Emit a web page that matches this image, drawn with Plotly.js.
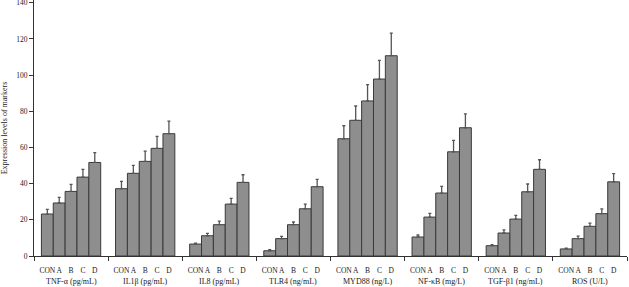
<!DOCTYPE html>
<html>
<head>
<meta charset="utf-8">
<script src="https://cdn.plot.ly/plotly-3.0.1.min.js"></script>
<style>
  html, body { margin: 0; padding: 0; background: #fff; }
  #chart { width: 629px; height: 287px; }
</style>
</head>
<body>
<div id="chart"></div>
<script>
// Markers measured, one entry per group on the x axis
const markers = ['TNF-α (pg/mL)', 'IL1β (pg/mL)', 'IL8 (pg/mL)', 'TLR4 (ng/mL)',
                 'MYD88 (ng/L)', 'NF-κB (mg/L)', 'TGF-β1 (ng/mL)', 'ROS (U/L)'];
// Treatment groups, one bar each inside every marker group
const groups = ['CON', 'A', 'B', 'C', 'D'];

// Mean expression level per marker, for each treatment group
const meanCON = [23.2, 37.2, 6.6, 2.9, 64.8, 10.5, 5.7, 3.9];
const meanA   = [29.3, 45.7, 11.2, 9.6, 75.0, 21.5, 12.7, 9.6];
const meanB   = [35.7, 52.3, 17.3, 17.3, 85.7, 34.8, 20.4, 16.4];
const meanC   = [43.6, 59.5, 28.7, 26.1, 97.8, 57.6, 35.5, 23.4];
const meanD   = [51.7, 67.6, 40.7, 38.3, 110.7, 70.9, 47.9, 41.0];

// Standard deviations (drawn as upper error bars)
const sdCON = [2.6, 4.0, 0.5, 0.6, 7.2, 1.1, 0.6, 0.4];
const sdA   = [3.1, 4.4, 1.3, 1.3, 7.9, 2.1, 1.7, 1.4];
const sdB   = [3.9, 5.7, 2.0, 1.5, 9.0, 3.7, 2.1, 1.8];
const sdC   = [4.3, 6.6, 3.2, 2.6, 10.3, 6.3, 4.3, 2.7];
const sdD   = [5.4, 7.0, 4.2, 4.1, 12.5, 7.7, 5.3, 4.5];

const yTicks = [0, 20, 40, 60, 80, 100, 120, 140];

const means = [meanCON, meanA, meanB, meanC, meanD];
const sds = [sdCON, sdA, sdB, sdC, sdD];

// Each marker occupies one unit on the x axis; its five bars fill 80% of it.
const barW = 0.8 / groups.length;
const offset = j => (j - (groups.length - 1) / 2) * barW;

const FONT = 'Liberation Serif, Times New Roman, serif';

const traces = groups.map((g, j) => ({
  type: 'bar',
  name: g,
  x: markers.map((m, i) => i + offset(j)),
  y: means[j],
  width: barW,
  marker: { color: '#8e8e8e', line: { color: '#3a3a3a', width: 1 } },
  error_y: {
    type: 'data', symmetric: false,
    array: sds[j], arrayminus: sds[j].map(() => 0),
    color: '#555555', thickness: 1.3, width: 1.5
  },
  hoverinfo: 'x+y'
}));

// Bar labels under every bar
const subVals = [], subText = [];
markers.forEach((m, i) => groups.forEach((g, j) => {
  subVals.push(i + offset(j));
  subText.push(g);
}));

// Tick marks between marker groups, on an overlaid axis
const boundaryVals = [];
for (let i = 0; i <= markers.length; i++) boundaryVals.push(i - 0.5);
// invisible helper trace so the overlaid axis is drawn
traces.push({
  type: 'scatter', x: [-0.5, markers.length - 0.5], y: [0, 0],
  xaxis: 'x2', mode: 'none', hoverinfo: 'skip', showlegend: false
});

const annotations = markers.map((m, i) => ({
  text: m, x: i, xref: 'x', y: -0.1, yref: 'paper',
  yanchor: 'middle', xanchor: 'center', showarrow: false,
  font: { family: FONT, size: 8, color: '#222' }
}));

const layout = {
  width: 629, height: 287,
  margin: { l: 34, r: 2, t: 0, b: 31 },
  paper_bgcolor: '#fff', plot_bgcolor: '#fff',
  showlegend: false,
  bargap: 0,
  font: { family: FONT, size: 8, color: '#222' },
  xaxis: {
    range: [-0.5, markers.length - 0.5],
    tickmode: 'array', tickvals: subVals, ticktext: subText,
    ticks: '', ticklabelstandoff: 7, tickangle: 0,
    tickfont: { family: FONT, size: 7.5, color: '#222' },
    showgrid: false, zeroline: false,
    showline: true, linecolor: '#333', linewidth: 1
  },
  xaxis2: {
    overlaying: 'x', matches: 'x', side: 'bottom',
    range: [-0.5, markers.length - 0.5],
    tickmode: 'array', tickvals: boundaryVals,
    ticks: 'outside', ticklen: 4, tickcolor: '#333', tickwidth: 1,
    showticklabels: false, showgrid: false, zeroline: false, showline: false
  },
  yaxis: {
    range: [0, 141.5],
    tickmode: 'array', tickvals: yTicks, ticktext: yTicks.map(String),
    ticks: 'outside', ticklen: 4, tickcolor: '#333', tickwidth: 1,
    ticklabeloverflow: 'allow',
    tickfont: { family: FONT, size: 7.5, color: '#222' },
    showgrid: false, zeroline: false,
    showline: true, linecolor: '#333', linewidth: 1,
    title: { text: 'Expression levels of markers', standoff: 10,
             font: { family: FONT, size: 8, color: '#222' } }
  },
  annotations: annotations
};

Plotly.newPlot('chart', traces, layout, { displayModeBar: false, staticPlot: true });
</script>
</body>
</html>
